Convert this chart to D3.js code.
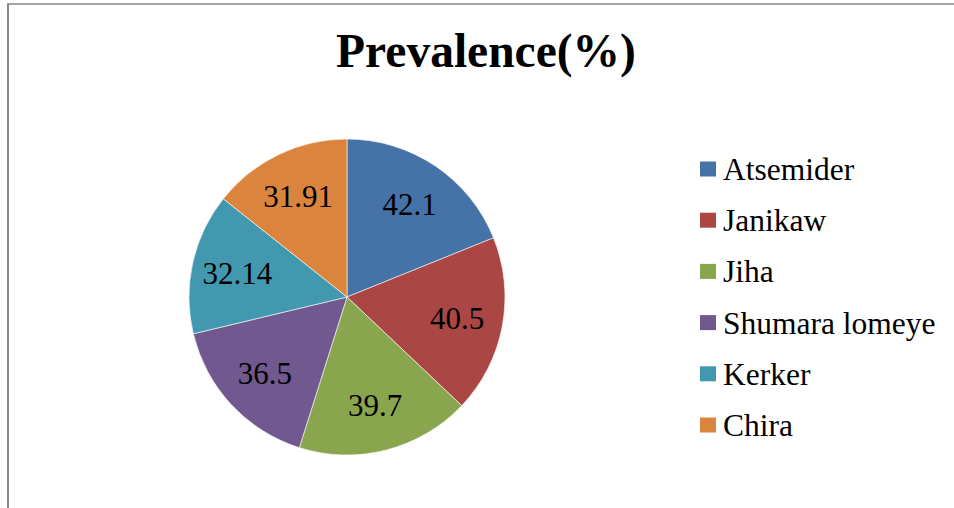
<!DOCTYPE html>
<html>
<head>
<meta charset="utf-8">
<script src="https://cdn.jsdelivr.net/npm/d3@7/dist/d3.min.js"></script>
<style>
  html, body { margin: 0; padding: 0; background: #fff; }
  svg { display: block; }
</style>
</head>
<body>
<svg id="chart" width="954" height="508"></svg>
<script>
const categories = ['Atsemider', 'Janikaw', 'Jiha', 'Shumara lomeye', 'Kerker', 'Chira'];
const values = [42.1, 40.5, 39.7, 36.5, 32.14, 31.91];
const valueLabels = ['42.1', '40.5', '39.7', '36.5', '32.14', '31.91'];
const colors = ['#4572a7', '#aa4643', '#89a54e', '#71588f', '#4198af', '#db843d'];

const W = 954, H = 508;
const CX = 347, CY = 297, R = 158;
const SERIF = '"Liberation Serif", "Times New Roman", serif';

const svg = d3.select('#chart');

// Frame (cropped chart area border)
svg.append('line')
  .attr('x1', 8).attr('x2', W).attr('y1', 4).attr('y2', 4)
  .attr('stroke', '#888').attr('stroke-width', 1.5);
svg.append('line')
  .attr('x1', 8).attr('x2', 8).attr('y1', 3.3).attr('y2', H)
  .attr('stroke', '#888').attr('stroke-width', 2);

// Title
svg.append('text')
  .attr('x', 486).attr('y', 67)
  .attr('text-anchor', 'middle')
  .style('font-family', SERIF)
  .style('font-size', '47.5px').style('font-weight', 'bold')
  .attr('fill', '#000')
  .text('Prevalence(%)');

const data = categories.map((c, i) => ({ name: c, value: values[i], label: valueLabels[i], color: colors[i] }));

const pie = d3.pie().sort(null).value(d => d.value);
const arc = d3.arc().innerRadius(0).outerRadius(R);
const labelArc = d3.arc().innerRadius(R * 0.71).outerRadius(R * 0.71);

const g = svg.append('g').attr('transform', `translate(${CX},${CY})`);
const slices = g.selectAll('.slice')
  .data(pie(data))
  .join('g')
  .attr('class', 'slice');

slices.append('path')
  .attr('d', arc)
  .attr('fill', d => d.data.color)
  .attr('stroke', '#fff').attr('stroke-width', 0.6);

slices.append('text')
  .attr('transform', d => `translate(${labelArc.centroid(d)})`)
  .attr('text-anchor', 'middle')
  .attr('dy', '0.35em')
  .style('font-family', SERIF)
  .style('font-size', '31px')
  .attr('fill', '#000')
  .text(d => d.data.label);

// Legend
const legend = svg.append('g').attr('transform', 'translate(700,169)');
const items = legend.selectAll('.item')
  .data(data)
  .join('g')
  .attr('class', 'item')
  .attr('transform', (_, i) => `translate(0,${i * 51.2})`);

items.append('rect')
  .attr('x', 0).attr('y', -7.5)
  .attr('width', 16).attr('height', 15)
  .attr('fill', d => d.color);

items.append('text')
  .attr('x', 23).attr('y', 0)
  .attr('dy', '0.35em')
  .style('font-family', SERIF)
  .style('font-size', '31.5px')
  .attr('fill', '#000')
  .text(d => d.name);
</script>
</body>
</html>
